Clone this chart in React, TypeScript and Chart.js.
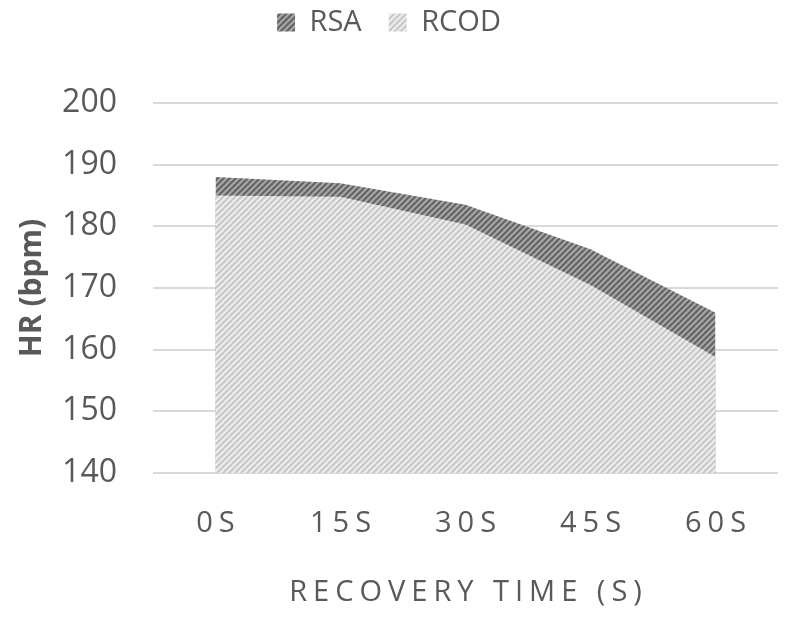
import React, { useEffect, useRef } from "react";
import { Chart, registerables } from "chart.js";

Chart.register(...registerables);

const categories = ["0S", "15S", "30S", "45S", "60S"];
const rsaValues = [188, 187, 183.5, 176.3, 166];
const rcodValues = [185, 184.8, 180.3, 170.5, 158.8];
const yTicks = [140, 150, 160, 170, 180, 190, 200];

const FONT = "'Open Sans', 'Noto Sans', sans-serif";
const GRAY = "#595959";

function makeHatch(bg: string, fg: string, lw: number): CanvasPattern | string {
  const s = 6;
  const c = document.createElement("canvas");
  c.width = s;
  c.height = s;
  const g = c.getContext("2d");
  if (!g) return bg;
  g.fillStyle = bg;
  g.fillRect(0, 0, s, s);
  g.strokeStyle = fg;
  g.lineWidth = lw;
  g.beginPath();
  g.moveTo(-s, s * 2);
  g.lineTo(s * 2, -s);
  g.moveTo(-s, s);
  g.lineTo(s, -s);
  g.moveTo(0, s * 2);
  g.lineTo(s * 2, 0);
  g.stroke();
  const p = g.createPattern(c, "repeat");
  return p || bg;
}

const layoutPlugin = {
  id: "layoutTweaks",
  beforeInit(chart: any) {
    const lg: any = chart.legend;
    if (lg && !lg.__fitWrapped) {
      lg.__fitWrapped = true;
      const fit = lg.fit;
      lg.fit = function () {
        fit.call(this);
        this.height += 56;
      };
    }
  },
  afterLayout(chart: any) {
    const sc: any = chart.scales.x;
    if (!sc || sc.__wrapped) return;
    sc.__wrapped = true;
    const wrap = (fn: any) => (arg: any) => {
      const c: any = chart.ctx;
      c.save();
      if ("letterSpacing" in c) {
        c.letterSpacing = "6px";
        c.translate(3, 0);
      }
      fn.call(sc, arg);
      c.restore();
    };
    sc.drawLabels = wrap(sc.drawLabels);
    sc.drawTitle = wrap(sc.drawTitle);
  },
};

export default function App() {
  const ref = useRef<HTMLCanvasElement | null>(null);

  useEffect(() => {
    if (!ref.current) return;
    const rsaFill = makeHatch("#a8a8a8", "#646464", 2.2);
    const rcodFill = makeHatch("#eeeeee", "#c8c8c8", 2.2);
    const chart = new Chart(ref.current, {
      type: "line",
      data: {
        labels: categories,
        datasets: [
          {
            label: "RSA",
            data: rsaValues,
            backgroundColor: rsaFill as any,
            borderColor: "rgba(0,0,0,0)",
            borderWidth: 0,
            pointRadius: 0,
            fill: "start",
            tension: 0,
            order: 1,
          },
          {
            label: "RCOD",
            data: rcodValues,
            backgroundColor: rcodFill as any,
            borderColor: "rgba(0,0,0,0)",
            borderWidth: 0,
            pointRadius: 0,
            fill: "start",
            tension: 0,
            order: 0,
          },
        ],
      },
      options: {
        animation: false,
        responsive: true,
        maintainAspectRatio: false,
        layout: { padding: { top: -19, right: 14, bottom: 0, left: 0 } },
        plugins: {
          tooltip: { enabled: false },
          legend: {
            position: "top",
            labels: {
              color: GRAY,
              font: { family: FONT, size: 29 },
              boxWidth: 18,
              boxHeight: 18,
              padding: 27,
              sort: (a: any, b: any) => a.datasetIndex - b.datasetIndex,
            },
          },
        },
        scales: {
          x: {
            type: "category",
            offset: true,
            grid: { display: false, drawTicks: false },
            border: { display: false },
            afterFit: (axis: any) => {
              axis.height = 150;
            },
            ticks: {
              color: GRAY,
              font: { family: FONT, size: 29 },
              padding: 33,
              maxRotation: 0,
            },
            title: {
              display: true,
              text: "RECOVERY TIME (S)",
              color: GRAY,
              font: { family: FONT, size: 29 },
              padding: { top: 20, bottom: 13 },
            },
          },
          y: {
            min: 140,
            max: 200,
            afterBuildTicks: (axis: any) => {
              axis.ticks = yTicks.map((v) => ({ value: v }));
            },
            afterFit: (axis: any) => {
              axis.width = 153;
            },
            grid: { color: "#d9d9d9", lineWidth: 2, drawTicks: false },
            border: { display: false },
            ticks: {
              color: GRAY,
              font: { family: FONT, size: 32 },
              padding: 36,
            },
            title: {
              display: true,
              text: "HR (bpm)",
              color: GRAY,
              font: { family: FONT, size: 30, weight: "bold" },
              padding: { top: 14, bottom: 13 },
            },
          },
        },
      },
      plugins: [layoutPlugin],
    });
    return () => chart.destroy();
  }, []);

  return (
    <div style={{ position: "fixed", left: 0, top: 0, width: 792, height: 623, background: "#fff" }}>
      <canvas ref={ref} />
    </div>
  );
}
